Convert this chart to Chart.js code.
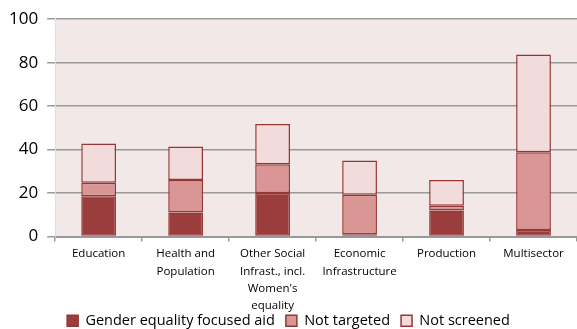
<!DOCTYPE html>
<html>
<head>
<meta charset="utf-8">
<script src="https://cdn.jsdelivr.net/npm/chart.js@4.4.0/dist/chart.umd.min.js"></script>
<style>
  html, body { margin: 0; padding: 0; background: #fff; }
  #wrap { width: 577px; height: 329px; }
</style>
</head>
<body>
<div id="wrap"><canvas id="chart"></canvas></div>
<script>
const sectors = [
  'Education',
  ['Health and', 'Population'],
  ['Other Social', 'Infrast., incl.', "Women's", 'equality'],
  ['Economic', 'Infrastructure'],
  'Production',
  'Multisector'
];
const genderFocused = [18.5, 11, 20, 1, 12, 3];
const notTargeted = [6.2, 15, 13.3, 18.2, 2.2, 35.8];
const notScreened = [18.1, 15.4, 18.5, 15.8, 11.8, 45];
const yTicks = [0, 20, 40, 60, 80, 100];

// fill the plot area pink
const plotBg = {
  id: 'plotBg',
  beforeDraw(chart) {
    const { ctx, chartArea: a } = chart;
    ctx.save();
    ctx.fillStyle = '#f2e8e8';
    ctx.fillRect(a.left, a.top, a.right - a.left, a.bottom - a.top);
    ctx.restore();
  }
};

const border = '#953735';
const barStyle = { borderColor: border, borderWidth: 1.5, borderSkipped: false };

new Chart(document.getElementById('chart'), {
  type: 'bar',
  data: {
    labels: sectors,
    datasets: [
      { label: 'Gender equality focused aid', data: genderFocused, backgroundColor: '#9b3d3c', ...barStyle },
      { label: 'Not targeted', data: notTargeted, backgroundColor: '#d99694', ...barStyle },
      { label: 'Not screened', data: notScreened, backgroundColor: '#f2dcdb', ...barStyle }
    ]
  },
  options: {
    responsive: true,
    maintainAspectRatio: false,
    animation: false,
    layout: { padding: { top: -5, right: 0, left: 0, bottom: -9 } },
    datasets: { bar: { categoryPercentage: 0.4, barPercentage: 1 } },
    plugins: {
      legend: {
        position: 'bottom',
        labels: {
          font: { family: 'Open Sans', size: 14.5 },
          color: '#000',
          boxWidth: 11,
          boxHeight: 11,
          padding: 11
        }
      },
      tooltip: { enabled: false }
    },
    scales: {
      x: {
        stacked: true,
        offset: true,
        // labels run into the legend in the original, so keep the axis short
        // and let the labels draw outside of it
        afterFit(scale) {
          scale.height = 66;
          scale._computeLabelArea = () => undefined;
        },
        grid: { offset: true, drawOnChartArea: false, drawTicks: true, tickLength: 5, color: '#999', lineWidth: 1.5 },
        border: { color: '#999', width: 2 },
        ticks: { font: { family: 'Open Sans', size: 11.5, lineHeight: 1.5 }, color: '#000', maxRotation: 0, autoSkip: false, padding: 4 }
      },
      y: {
        stacked: true,
        min: 0,
        max: 100,
        afterBuildTicks(scale) { scale.ticks = yTicks.map(v => ({ value: v })); },
        grid: { color: '#999', lineWidth: 1.5, tickLength: 8 },
        border: { color: '#ddd', width: 1 },
        ticks: { font: { family: 'Open Sans', size: 17 }, color: '#000', padding: 9 }
      }
    }
  },
  plugins: [plotBg]
});
</script>
</body>
</html>
